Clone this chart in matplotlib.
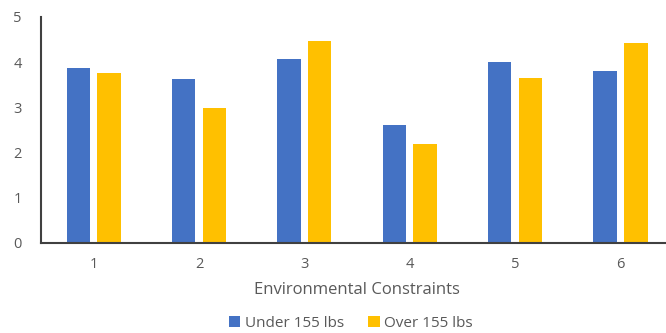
import matplotlib
matplotlib.use("Agg")
import matplotlib.pyplot as plt
import numpy as np

categories = ["1", "2", "3", "4", "5", "6"]
under_155 = [3.88, 3.62, 4.06, 2.61, 4.00, 3.81]
over_155 = [3.75, 2.99, 4.47, 2.19, 3.64, 4.42]
y_ticks = [0, 1, 2, 3, 4, 5]

plt.rcParams["font.family"] = ["Open Sans", "DejaVu Sans"]
text_color = "#595959"

fig = plt.figure(figsize=(6.66, 3.33), dpi=100)
ax = fig.add_axes([0.0616, 0.2703, 0.949, 0.679])

x = np.arange(1, len(categories) + 1)
bar_w = 0.223
offset = 0.146
ax.bar(x - offset, under_155, width=bar_w, color="#4472C4", label="Under 155 lbs")
ax.bar(x + offset, over_155, width=bar_w, color="#FFC000", label="Over 155 lbs")

ax.set_xlim(0.5, 6.5)
ax.set_ylim(0, 5)
ax.set_xticks(x)
ax.set_xticklabels(categories)
ax.set_yticks(y_ticks)

for side in ("top", "right"):
    ax.spines[side].set_visible(False)
for side in ("left", "bottom"):
    ax.spines[side].set_color("#404040")
    ax.spines[side].set_linewidth(1.5)

ax.tick_params(axis="both", length=0, labelsize=10.5, colors=text_color)
ax.tick_params(axis="y", pad=14)
ax.tick_params(axis="x", pad=10)

ax.set_xlabel("Environmental Constraints", fontsize=12, color=text_color, labelpad=7)

fig.legend(loc="center", bbox_to_anchor=(0.527, 0.03),
           ncol=2, frameon=False, fontsize=11, handlelength=0.75, handleheight=0.75,
           columnspacing=1.6, handletextpad=0.3, labelcolor=text_color,
           borderpad=0.1)

fig.savefig("out.png", dpi=100)
